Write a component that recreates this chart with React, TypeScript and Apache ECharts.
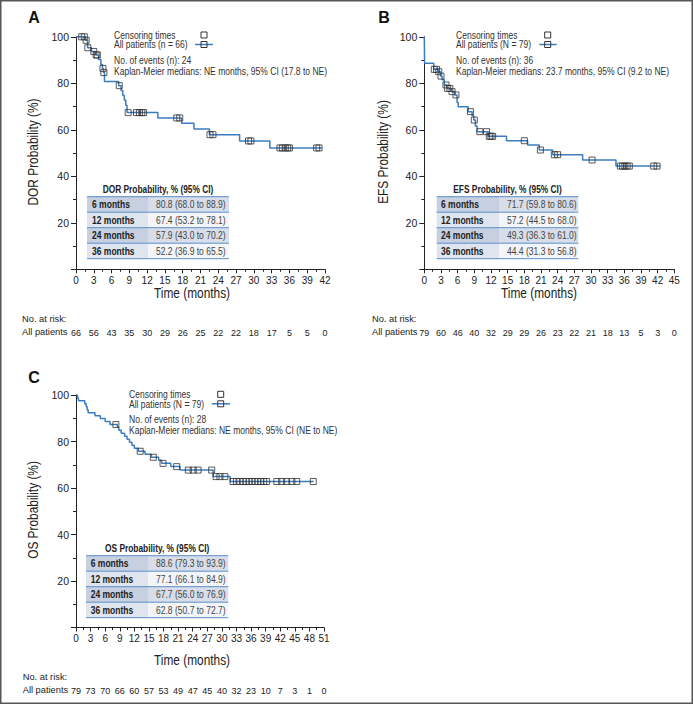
import React, { useEffect, useRef } from 'react';
import * as echarts from 'echarts';

// ---------- DATA ----------
// Panel A: Duration of response
const dorTimes = [0, 1.6, 1.95, 2.6, 3.3, 3.8, 4.2, 4.45, 4.65, 4.8, 7.2, 7.6, 7.9, 8.15, 8.4, 8.6, 13.8, 17.8, 19.9, 22.5, 27.6, 32.7, 41.5];
const dorSurv = [100, 98.5, 95.3, 93.7, 92.2, 90.2, 88.1, 86.4, 84.6, 80.8, 79.0, 76.9, 74.8, 72.7, 70.6, 67.4, 65.1, 62.8, 60.3, 57.9, 55.2, 52.2, 52.2];
const dorCensorTimes = [0.96, 1.4, 1.7, 2.0, 3.0, 3.4, 3.6, 4.55, 4.7, 7.3, 8.8, 10.2, 10.7, 11.1, 11.4, 17.0, 17.5, 22.6, 23.1, 29.1, 29.5, 34.4, 34.8, 35.3, 35.7, 36.0, 40.6, 41.0];
const dorCensorSurv = [100, 100, 98.5, 95.3, 93.7, 92.2, 92.2, 86.4, 84.6, 79.0, 67.4, 67.4, 67.4, 67.4, 67.4, 65.1, 65.1, 57.9, 57.9, 55.2, 55.2, 52.2, 52.2, 52.2, 52.2, 52.2, 52.2, 52.2];
const dorAtRisk = [66, 56, 43, 35, 30, 29, 26, 25, 22, 22, 18, 17, 5, 5, 0];
const dorTable = ['80.8 (68.0 to 88.9)', '67.4 (53.2 to 78.1)', '57.9 (43.0 to 70.2)', '52.2 (36.9 to 65.5)'];

// Panel B: Event-free survival
const efsTimes = [0, 0.05, 1.7, 2.5, 2.9, 3.2, 3.6, 4.1, 4.9, 5.5, 5.9, 6.1, 7.9, 8.6, 8.9, 9.2, 9.5, 11.5, 14.8, 18.6, 20.7, 23.1, 28.5, 34.5, 42.5];
const efsSurv = [100, 88.6, 86.0, 85.0, 83.1, 81.5, 79.3, 77.8, 76.4, 75.0, 71.7, 69.9, 67.8, 66.1, 64.2, 61.6, 59.2, 57.2, 55.3, 53.5, 51.3, 49.3, 47.0, 44.4, 44.4];
const efsCensorTimes = [1.8, 2.2, 2.6, 3.0, 3.9, 4.2, 4.6, 5.0, 5.7, 8.3, 9.0, 10.0, 11.2, 11.7, 12.0, 12.3, 18.0, 20.9, 23.4, 24.0, 30.2, 35.3, 35.7, 36.1, 36.5, 36.9, 41.3, 41.9];
const efsCensorSurv = [86.0, 86.0, 85.0, 83.1, 79.3, 77.8, 77.8, 76.4, 75.0, 67.8, 64.2, 59.2, 59.2, 57.2, 57.2, 57.2, 55.3, 51.3, 49.3, 49.3, 47.0, 44.4, 44.4, 44.4, 44.4, 44.4, 44.4, 44.4];
const efsAtRisk = [79, 60, 46, 40, 32, 29, 29, 26, 23, 22, 21, 18, 13, 5, 3, 0];
const efsTable = ['71.7 (59.8 to 80.6)', '57.2 (44.5 to 68.0)', '49.3 (36.3 to 61.0)', '44.4 (31.3 to 56.8)'];

// Panel C: Overall survival
const osTimes = [0, 0.3, 0.5, 1.8, 2.1, 2.3, 2.5, 3.9, 5.0, 6.0, 7.0, 8.5, 8.8, 9.3, 10.0, 10.5, 11.0, 11.5, 12.0, 12.8, 14.2, 15.5, 17.0, 17.6, 19.5, 21.4, 28.2, 31.7, 48.9];
const osSurv = [100, 98.7, 97.5, 96.2, 94.9, 93.7, 92.4, 91.1, 89.9, 88.6, 87.3, 86.1, 84.8, 83.5, 82.3, 81.0, 79.7, 78.4, 77.1, 75.8, 74.5, 73.2, 71.9, 70.6, 69.2, 67.7, 64.9, 62.8, 62.8];
const osCensorTimes = [8.2, 13.2, 15.9, 17.9, 20.7, 23.1, 24.1, 25.1, 27.9, 28.8, 29.6, 30.6, 32.3, 33.0, 33.7, 34.4, 35.0, 35.6, 36.2, 36.8, 37.4, 38.0, 38.6, 39.2, 41.3, 42.3, 43.3, 44.4, 45.4, 48.8];
const osCensorSurv = [87.3, 75.8, 73.2, 70.6, 69.2, 67.7, 67.7, 67.7, 67.7, 64.9, 64.9, 64.9, 62.8, 62.8, 62.8, 62.8, 62.8, 62.8, 62.8, 62.8, 62.8, 62.8, 62.8, 62.8, 62.8, 62.8, 62.8, 62.8, 62.8, 62.8];
const osAtRisk = [79, 73, 70, 66, 60, 57, 53, 49, 47, 45, 40, 32, 23, 10, 7, 3, 1, 0];
const osTable = ['88.6 (79.3 to 93.9)', '77.1 (66.1 to 84.9)', '67.7 (56.0 to 76.9)', '62.8 (50.7 to 72.7)'];

const tableRowLabels = ['6 months', '12 months', '24 months', '36 months'];
const xMaxes = [42, 45, 51];
const panelLetters = ['A', 'B', 'C'];
const yNames = ['DOR Probability (%)', 'EFS Probability (%)', 'OS Probability (%)'];
const tableHeaders = ['DOR Probability, % (95% CI)', 'EFS Probability, % (95% CI)', 'OS Probability, % (95% CI)'];
const legendPatients = ['All patients (n = 66)', 'All patients (N = 79)', 'All patients (N = 79)'];
const legendEvents = ['No. of events (n): 24', 'No. of events (n): 36', 'No. of events (n): 28'];
const legendMedians = [
  'Kaplan-Meier medians: NE months, 95% CI (17.8 to NE)',
  'Kaplan-Meier medians: 23.7 months, 95% CI (9.2 to NE)',
  'Kaplan-Meier medians: NE months, 95% CI (NE to NE)',
];

// ---------- STYLE / LAYOUT ----------
const FB = "'Liberation Sans', Arial, Helvetica, sans-serif";
const BLUE = '#3b7dc0';
const INK = '#222';
const COND = 0.82; // horizontal squeeze imitating a condensed face

const grids = [
  { left: 76, top: 36.8, width: 249, height: 232.5 },
  { left: 424.3, top: 36.8, width: 250, height: 232.5 },
  { left: 76, top: 395, width: 248, height: 232.5 },
];

const layout = [
  { letter: [34, 17.5], yName: [33, 152], time: [192, 293], risk: [22, 319], legX: 114, legY: 35, sqX: 204, lineX: [195, 213],
    table: { x0: 87, x1: 229, headerY: 190, topY: 196.7, labelX: 92, valueX: 156 } },
  { letter: [384, 17], yName: [383, 152], time: [539, 293], risk: [372, 319], legX: 456, legY: 35, sqX: 547.7, lineX: [539.3, 556.7],
    table: { x0: 436.7, x1: 578.3, headerY: 190, topY: 196.7, labelX: 441, valueX: 507 } },
  { letter: [34, 377], yName: [33, 510], time: [192, 660], risk: [22.7, 676.7], legX: 129, legY: 394.3, sqX: 220.7, lineX: [211.7, 230],
    table: { x0: 86, x1: 228.3, headerY: 548.3, topY: 555.7, labelX: 90.7, valueX: 156 } },
];

const zip = (a: number[], b: number[]) => a.map((v, i) => [v, b[i]]);

function txt(x: number, y: number, text: string, o: any = {}) {
  const align = o.align || 'left';
  const va = o.va || 'middle';
  const cond = o.cond ? COND : 1;
  return {
    type: 'text', x, y, silent: true, rotation: o.rotation || 0, scaleX: cond,
    style: {
      text, fill: o.fill || INK, fontSize: o.size || 9, fontFamily: FB,
      fontWeight: o.weight || 'normal', align, verticalAlign: va, textAlign: align, textVerticalAlign: va,
    },
  };
}

function buildGraphics() {
  const els: any[] = [];
  els.push({ type: 'rect', silent: true, shape: { x: 0.75, y: 0.75, width: 691.5, height: 702.5 }, style: { fill: 'none', stroke: '#555', lineWidth: 1.5 } });
  const tables = [dorTable, efsTable, osTable];
  layout.forEach((L, i) => {
    els.push(txt(L.letter[0], L.letter[1], panelLetters[i], { weight: 'bold', size: 16, align: 'center', fill: '#111' }));
    els.push(txt(L.yName[0], L.yName[1], yNames[i], { size: 14.5, align: 'center', rotation: Math.PI / 2, cond: true }));
    els.push(txt(L.time[0], L.time[1], 'Time (months)', { size: 14.5, align: 'center', cond: true }));
    // legend
    els.push(txt(L.legX, L.legY, 'Censoring times', { size: 10.4, fill: '#333', cond: true }));
    els.push(txt(L.legX, L.legY + 9.5, legendPatients[i], { size: 10.4, fill: '#333', cond: true }));
    els.push(txt(L.legX, L.legY + 25, legendEvents[i], { size: 10.4, fill: '#333', cond: true }));
    els.push(txt(L.legX, L.legY + 36, legendMedians[i], { size: 10.4, fill: '#333', cond: true }));
    els.push({ type: 'rect', silent: true, shape: { x: L.sqX - 3, y: L.legY - 3, width: 6, height: 6 }, style: { fill: 'none', stroke: '#333', lineWidth: 1 } });
    els.push({ type: 'line', silent: true, shape: { x1: L.lineX[0], y1: L.legY + 9.5, x2: L.lineX[1], y2: L.legY + 9.5 }, style: { stroke: BLUE, lineWidth: 1.5 } });
    els.push({ type: 'rect', silent: true, z: 10, shape: { x: L.sqX - 3, y: L.legY + 6.5, width: 6, height: 6 }, style: { fill: 'none', stroke: '#333', lineWidth: 1 } });
    // table
    const T = L.table;
    const rowH = 15.5;
    const splitX = T.valueX - 8;
    els.push(txt((T.x0 + T.x1) / 2, T.headerY, tableHeaders[i], { size: 10.2, weight: 'bold', align: 'center', cond: true }));
    tableRowLabels.forEach((lab, r) => {
      const y = T.topY + r * rowH;
      const odd = r % 2 === 0;
      els.push({ type: 'rect', silent: true, shape: { x: T.x0, y, width: splitX - T.x0, height: rowH }, style: { fill: odd ? '#c6d0e1' : '#dfe5ef' } });
      els.push({ type: 'rect', silent: true, shape: { x: splitX, y, width: T.x1 - splitX, height: rowH }, style: { fill: odd ? '#d7dee9' : '#f3f5f9' } });
      els.push(txt(T.labelX, y + rowH / 2, lab, { size: 10.4, weight: 'bold', cond: true }));
      els.push(txt(T.valueX, y + rowH / 2, tables[i][r], { size: 10.4, fill: '#444', cond: true }));
    });
    for (let r = 0; r <= tableRowLabels.length; r++) {
      const y = T.topY + r * rowH;
      els.push({ type: 'line', silent: true, z: 5, shape: { x1: T.x0, y1: y, x2: T.x1, y2: y }, style: { stroke: '#5b8dc8', lineWidth: 1 } });
    }
    // at risk labels
    els.push(txt(L.risk[0], L.risk[1], 'No. at risk:', { size: 9.3 }));
    els.push(txt(L.risk[0], L.risk[1] + 13.3, 'All patients', { size: 9.3 }));
  });
  return els;
}

function buildOption() {
  const atRisks = [dorAtRisk, efsAtRisk, osAtRisk];
  const curves = [zip(dorTimes, dorSurv), zip(efsTimes, efsSurv), zip(osTimes, osSurv)];
  const censors = [zip(dorCensorTimes, dorCensorSurv), zip(efsCensorTimes, efsCensorSurv), zip(osCensorTimes, osCensorSurv)];
  const xAxis: any[] = [];
  const yAxis: any[] = [];
  const series: any[] = [];
  grids.forEach((_, i) => {
    xAxis.push({
      gridIndex: i, type: 'value', min: 0, max: xMaxes[i], interval: 3,
      axisLine: { show: true, lineStyle: { color: INK, width: 1 } },
      axisTick: { show: true, length: 4, lineStyle: { color: INK } },
      minorTick: { show: true, splitNumber: 2, length: 2.5, lineStyle: { color: INK } },
      splitLine: { show: false },
      axisLabel: { fontFamily: FB, fontSize: 10, color: INK, margin: 6, showMinLabel: true, showMaxLabel: true },
    });
    const risk = atRisks[i];
    xAxis.push({
      gridIndex: i, type: 'value', min: 0, max: xMaxes[i], interval: 3, position: 'bottom', offset: 55,
      axisLine: { show: false }, axisTick: { show: false }, splitLine: { show: false },
      axisLabel: {
        fontFamily: FB, fontSize: 9, color: INK, margin: 4, showMinLabel: true, showMaxLabel: true,
        formatter: (v: number) => { const k = Math.round(v / 3); return k < risk.length ? String(risk[k]) : ''; },
      },
    });
    yAxis.push({
      gridIndex: i, type: 'value', min: 0, max: 100, interval: 20,
      axisLine: { show: true, lineStyle: { color: INK, width: 1 } },
      axisTick: { show: true, length: 5, lineStyle: { color: INK } },
      minorTick: { show: true, splitNumber: 2, length: 3, lineStyle: { color: INK } },
      splitLine: { show: false },
      axisLabel: { fontFamily: FB, fontSize: 10.5, color: INK, margin: 7, formatter: (v: number) => (v === 0 ? '' : String(v)) },
    });
    series.push({
      type: 'line', xAxisIndex: 2 * i, yAxisIndex: i, step: 'end', symbol: 'none', silent: true,
      data: curves[i], lineStyle: { color: BLUE, width: 1.5 }, z: 2,
    });
    series.push({
      type: 'scatter', xAxisIndex: 2 * i, yAxisIndex: i, symbol: 'rect', symbolSize: 6, silent: true,
      data: censors[i], itemStyle: { color: 'rgba(255,255,255,0)', borderColor: '#333', borderWidth: 1 }, z: 3,
    });
  });
  return {
    animation: false,
    backgroundColor: '#fff',
    grid: grids.map((g) => ({ ...g, containLabel: false })),
    xAxis, yAxis, series,
    graphic: { elements: buildGraphics() },
  };
}

export default function App() {
  const ref = useRef<HTMLDivElement>(null);
  useEffect(() => {
    const chart = echarts.init(ref.current!, null, { renderer: 'svg' });
    chart.setOption(buildOption() as any);
    return () => chart.dispose();
  }, []);
  return <div ref={ref} style={{ position: 'absolute', left: 0, top: 0, width: 693, height: 704, background: '#fff' }} />;
}
